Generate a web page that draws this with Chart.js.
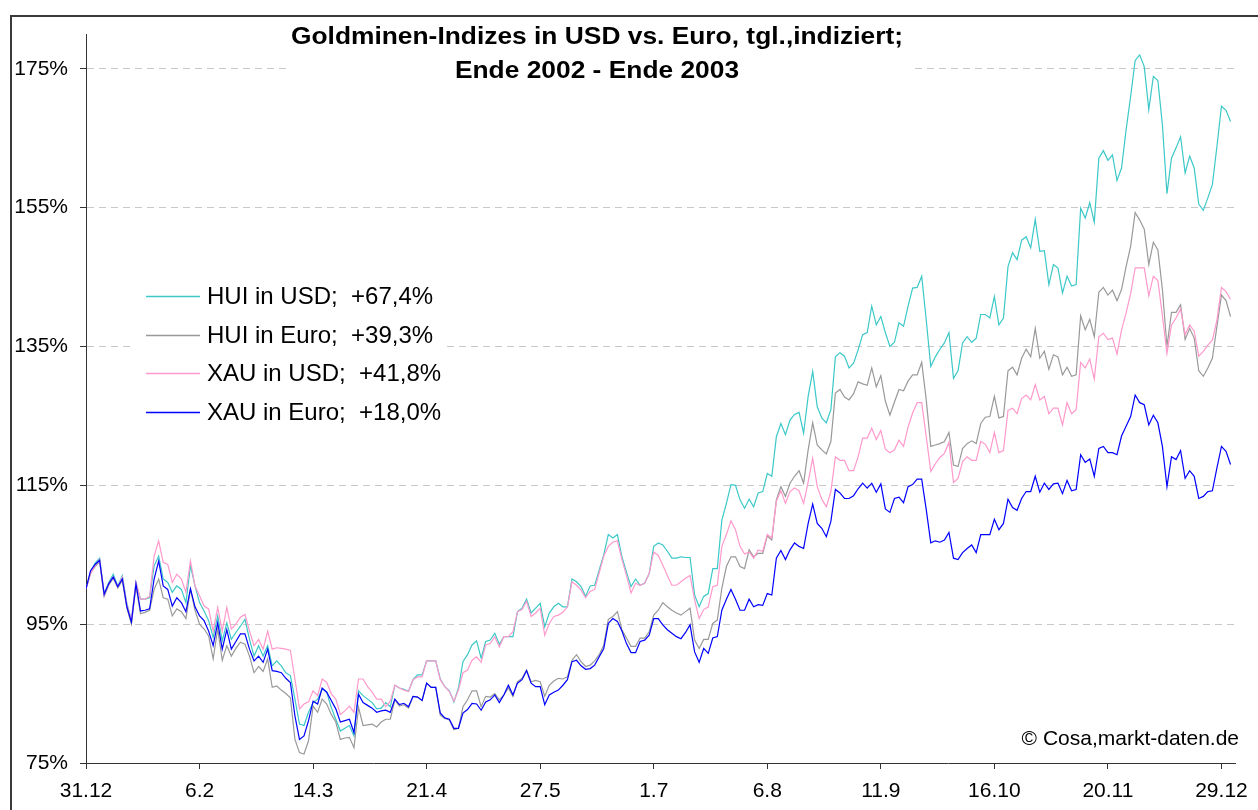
<!DOCTYPE html>
<html>
<head>
<meta charset="utf-8">
<title>Goldminen-Indizes</title>
<script src="https://cdn.jsdelivr.net/npm/chart.js@4.4.1/dist/chart.umd.min.js"></script>
<style>
  html, body { margin: 0; padding: 0; background: #fff; }
  #wrap { width: 1258px; height: 810px; }
</style>
</head>
<body>
<div id="wrap"><canvas id="chart" width="1258" height="810"></canvas></div>
<script>
// ---------------------------------------------------------------------------
// data: daily index values (100 = 31.12.2002), one value per trading day

const tickLabels = ['31.12', '6.2', '14.3', '21.4', '27.5', '1.7', '6.8', '11.9', '16.10', '20.11', '29.12'];
const yTicks = [75, 95, 115, 135, 155, 175];
const titleLines = ['Goldminen-Indizes in USD vs. Euro, tgl.,indiziert;', 'Ende 2002 - Ende 2003'];
const seriesNames = ['HUI in USD;  +67,4%', 'HUI in Euro;  +39,3%', 'XAU in USD;  +41,8%', 'XAU in Euro;  +18,0%'];
const copyright = '\u00A9 Cosa,markt-daten.de';

const huiUsd = [
  100.1, 102.5, 103.8, 104.5, 99.4, 101.0, 102.2, 100.5, 102.0, 98.0,
  95.6, 101.0, 98.6, 98.6, 98.8, 103.4, 104.8, 101.5, 101.0, 99.6,
  100.5, 100.0, 98.1, 103.4, 100.5, 98.1, 96.9, 95.5, 93.1, 96.2,
  92.6, 95.2, 92.8, 93.8, 94.7, 95.7, 92.8, 90.4, 91.9, 90.4,
  91.9, 89.0, 89.7, 89.0, 88.0, 87.6, 84.2, 80.6, 80.4, 82.3,
  83.7, 84.2, 85.7, 85.2, 83.0, 81.3, 79.6, 80.0, 80.4, 78.9,
  85.4, 84.7, 84.2, 83.7, 82.8, 82.9, 83.7, 83.1, 86.2, 85.8,
  85.6, 85.3, 87.0, 87.7, 87.7, 89.7, 89.7, 89.7, 87.1, 86.0,
  85.4, 83.8, 85.8, 89.6, 90.6, 92.0, 92.6, 90.1, 92.5, 92.7,
  93.7, 92.1, 93.2, 93.2, 93.2, 96.8, 97.3, 98.6, 96.6, 97.3,
  98.0, 94.6, 96.6, 97.5, 98.0, 97.5, 97.5, 101.5, 101.1, 100.4,
  99.0, 100.5, 100.6, 102.8, 105.0, 107.9, 107.4, 107.9, 104.7, 102.5,
  100.4, 101.5, 100.6, 100.9, 102.3, 106.2, 106.7, 106.4, 105.5, 104.5,
  104.5, 104.7, 104.6, 104.6, 99.2, 97.5, 99.0, 99.4, 103.0, 103.0,
  110.0, 112.4, 115.1, 115.0, 112.9, 111.7, 113.0, 111.9, 113.9, 114.1,
  116.7, 116.3, 122.0, 123.9, 122.3, 124.4, 125.2, 125.5, 122.5, 127.8,
  131.4, 126.3, 124.7, 124.0, 125.9, 133.5, 134.1, 133.6, 131.9, 132.6,
  134.5, 136.7, 137.0, 140.8, 138.1, 139.3, 137.0, 135.0, 135.6, 138.4,
  137.9, 140.8, 143.4, 143.5, 145.1, 138.8, 132.1, 133.5, 134.6, 135.5,
  137.0, 130.4, 131.5, 135.5, 136.4, 135.6, 136.2, 139.6, 139.6, 139.1,
  142.2, 138.1, 139.1, 146.5, 148.5, 147.5, 150.3, 150.8, 149.2, 153.3,
  148.7, 148.8, 143.9, 146.8, 146.3, 142.7, 145.1, 143.7, 143.9, 154.9,
  153.5, 155.7, 152.9, 162.1, 163.2, 161.8, 162.6, 158.9, 160.7, 166.2,
  171.0, 176.2, 177.0, 175.3, 169.1, 173.9, 173.3, 166.9, 157.0, 162.1,
  163.6, 165.2, 160.0, 162.4, 160.7, 155.5, 154.6, 156.4, 158.3, 163.8,
  169.6, 169.0, 167.4
];

const huiEuro = [
  100.1, 102.3, 103.3, 104.0, 99.0, 100.6, 101.6, 100.2, 101.3, 97.3,
  95.0, 100.5, 96.5, 96.7, 97.0, 100.0, 101.5, 98.8, 98.6, 96.2,
  97.2, 96.8, 95.8, 100.0, 97.0, 95.0, 94.3, 93.3, 90.0, 94.3,
  89.8, 91.9, 90.4, 91.5, 92.4, 92.1, 90.4, 88.0, 88.9, 88.2,
  90.0, 85.9, 86.1, 85.5, 85.0, 84.4, 78.4, 76.5, 76.3, 78.2,
  83.2, 82.3, 84.2, 83.5, 82.0, 80.9, 78.4, 78.6, 78.7, 77.2,
  83.0, 80.4, 80.5, 80.6, 80.2, 80.9, 81.3, 81.3, 84.1, 83.2,
  83.4, 82.9, 84.6, 84.5, 84.0, 86.5, 85.9, 85.9, 81.9, 81.4,
  81.2, 79.8, 80.0, 83.1, 84.1, 85.4, 85.4, 83.1, 84.6, 84.5,
  85.0, 84.1, 84.8, 85.8, 84.6, 86.7, 87.2, 88.4, 86.7, 86.9,
  86.7, 84.6, 86.2, 86.8, 87.2, 87.1, 87.4, 89.8, 90.6, 89.6,
  88.9, 89.1, 89.7, 90.6, 92.0, 95.7, 96.1, 96.8, 94.2, 93.0,
  91.8, 91.8, 93.0, 93.0, 93.9, 96.3, 97.0, 98.1, 97.5, 97.0,
  96.6, 96.3, 96.8, 97.3, 92.7, 91.5, 92.8, 92.8, 95.1, 95.6,
  100.2, 103.3, 104.7, 104.7, 103.3, 103.0, 105.7, 104.7, 105.2, 105.2,
  107.7, 107.1, 112.9, 114.8, 113.4, 115.3, 116.3, 117.1, 115.3, 120.1,
  124.0, 120.8, 120.1, 119.5, 121.3, 128.3, 128.8, 127.7, 127.3, 128.2,
  129.9, 129.6, 129.4, 131.9, 129.2, 130.8, 127.1, 125.1, 127.0, 128.8,
  128.6, 130.0, 130.9, 130.9, 132.7, 127.3, 120.6, 120.8, 121.0, 121.3,
  122.6, 117.9, 117.7, 120.3, 121.0, 121.4, 121.0, 123.9, 124.8, 124.9,
  127.8, 124.7, 124.9, 131.5, 132.0, 130.9, 133.3, 134.6, 133.5, 137.6,
  133.3, 134.3, 131.7, 133.8, 133.5, 130.9, 132.0, 130.7, 130.9, 139.4,
  137.4, 138.9, 136.4, 142.8, 143.5, 142.4, 143.1, 141.6, 143.2, 146.5,
  149.4, 154.3, 153.2, 151.9, 146.8, 150.0, 148.9, 143.2, 135.0, 139.9,
  139.9, 141.0, 136.0, 137.6, 136.2, 131.5, 130.7, 131.9, 133.3, 137.9,
  142.4, 141.6, 139.3
];

const xauUsd = [
  100.1, 102.3, 103.5, 104.3, 99.2, 100.8, 101.8, 100.4, 101.8, 97.8,
  95.6, 101.0, 98.6, 98.6, 99.0, 104.8, 107.0, 103.9, 103.6, 101.0,
  102.2, 101.5, 99.6, 104.1, 100.5, 99.1, 97.6, 97.2, 94.0, 97.4,
  94.0, 97.4, 94.3, 95.0, 96.0, 96.4, 94.0, 91.9, 92.8, 91.4,
  94.0, 91.4, 91.6, 91.5, 91.4, 91.2, 87.1, 82.8, 83.5, 83.8,
  85.4, 84.7, 87.1, 86.6, 85.0, 84.2, 82.0, 82.5, 83.2, 82.3,
  87.1, 87.1, 86.0, 85.2, 84.2, 84.2, 83.1, 83.9, 86.2, 85.8,
  85.5, 85.3, 87.0, 87.4, 87.4, 89.7, 89.7, 89.7, 87.0, 86.0,
  85.3, 83.9, 85.5, 88.0, 88.4, 89.8, 90.3, 89.5, 92.0, 92.2,
  93.2, 91.7, 93.2, 93.2, 93.9, 96.8, 97.1, 98.3, 96.1, 96.6,
  97.3, 93.4, 95.1, 96.1, 96.3, 96.7, 97.5, 101.1, 100.6, 99.9,
  98.8, 99.7, 100.0, 102.4, 104.8, 106.2, 106.8, 107.0, 104.3, 102.0,
  99.5, 100.9, 100.6, 100.9, 102.3, 105.4, 104.9, 103.5, 102.0, 100.6,
  100.6, 101.1, 101.6, 102.0, 98.5, 95.8, 97.1, 97.5, 100.4, 100.6,
  106.2, 107.9, 109.9, 108.6, 106.2, 105.1, 105.4, 104.5, 105.7, 105.5,
  107.9, 107.4, 112.7, 114.2, 112.4, 114.1, 114.6, 114.2, 112.4, 115.5,
  118.9, 114.8, 113.0, 111.9, 114.1, 119.1, 118.6, 118.6, 117.1, 117.1,
  119.1, 121.8, 121.8, 123.2, 121.6, 122.9, 120.2, 119.7, 120.1, 121.5,
  120.6, 123.4, 125.4, 126.9, 126.9, 122.0, 117.0, 118.1, 119.0, 119.6,
  121.2, 115.4, 116.0, 118.4, 119.1, 118.6, 118.6, 121.3, 120.9, 119.7,
  122.6, 119.7, 120.0, 125.8, 126.1, 125.3, 127.5, 128.0, 127.3, 129.5,
  127.3, 127.8, 125.3, 126.1, 126.1, 123.7, 126.9, 125.3, 125.9, 132.7,
  131.9, 133.2, 130.3, 136.4, 136.9, 136.0, 136.2, 133.9, 137.4, 139.8,
  142.6, 146.3, 146.3, 146.3, 142.3, 145.1, 144.5, 139.4, 134.0, 138.1,
  139.1, 140.4, 136.7, 138.1, 137.2, 133.6, 134.3, 135.2, 135.9, 138.8,
  143.5, 142.9, 141.8
];

const xauEuro = [
  100.1, 102.7, 103.6, 104.2, 99.3, 100.8, 101.8, 100.4, 101.5, 97.5,
  95.3, 100.8, 96.9, 97.0, 97.2, 101.5, 104.1, 100.5, 100.0, 97.6,
  98.8, 98.1, 96.8, 100.1, 97.5, 96.2, 95.5, 94.0, 91.9, 95.2,
  91.4, 94.2, 91.4, 92.5, 93.6, 93.6, 91.4, 89.7, 90.4, 89.5,
  91.4, 88.3, 88.2, 88.0, 87.2, 86.6, 81.8, 78.4, 78.9, 81.1,
  83.9, 83.5, 85.8, 85.2, 84.0, 82.8, 80.9, 81.1, 81.3, 79.4,
  84.9, 83.7, 83.3, 82.9, 82.3, 82.5, 82.6, 82.3, 84.2, 83.4,
  83.6, 83.1, 84.6, 84.5, 84.0, 86.5, 85.9, 85.9, 82.2, 81.5,
  81.3, 80.0, 80.0, 82.2, 82.7, 83.6, 83.5, 82.6, 83.8, 84.1,
  84.8, 83.7, 84.8, 86.2, 84.8, 86.5, 87.0, 88.3, 86.5, 86.0,
  86.0, 83.4, 84.8, 85.2, 85.5, 86.2, 87.0, 89.6, 89.8, 89.0,
  88.5, 88.6, 89.1, 90.3, 91.5, 95.1, 95.8, 95.4, 94.0, 92.2,
  90.9, 90.9, 92.5, 92.7, 93.4, 95.8, 95.8, 94.9, 94.2, 93.7,
  93.2, 92.9, 93.8, 94.9, 91.0, 89.5, 91.5, 90.8, 93.0, 93.2,
  97.0, 98.6, 100.0, 98.6, 97.0, 97.0, 98.6, 97.5, 97.8, 97.7,
  99.4, 99.2, 104.5, 105.6, 104.3, 105.7, 106.7, 106.2, 105.9, 109.5,
  112.3, 109.5, 108.8, 107.6, 109.8, 114.4, 113.9, 113.1, 113.1, 113.5,
  114.5, 115.3, 114.6, 115.3, 114.0, 115.2, 111.6, 111.1, 113.1, 113.3,
  112.5, 114.8, 115.1, 115.9, 115.9, 111.5, 106.7, 107.0, 106.8, 107.1,
  108.2, 104.5, 104.3, 105.3, 105.9, 106.4, 105.3, 107.9, 107.9, 107.9,
  110.1, 108.6, 109.5, 113.0, 111.8, 111.4, 113.1, 114.1, 114.1, 116.3,
  114.0, 115.3, 114.4, 115.2, 115.3, 113.8, 115.7, 114.2, 114.4, 119.4,
  118.3, 118.8, 116.3, 120.3, 120.6, 119.7, 119.7, 119.4, 122.1, 123.5,
  124.9, 128.0, 126.9, 126.6, 123.7, 125.1, 124.0, 120.6, 114.8, 119.1,
  118.7, 120.0, 116.0, 117.1, 116.3, 113.1, 113.4, 114.1, 114.2, 117.5,
  120.6, 119.9, 118.0
];

const seriesColors = ['#3cc8c8', '#999999', '#ff99cc', '#0000ff'];
const TICK_EVERY = 25;   // one axis label every 25 trading days

// ---------------------------------------------------------------------------

const FONT = '"Liberation Sans", Arial, sans-serif';
const days = huiUsd.map((v, i) => i);

function toPoints(values) {
  return values.map((v, i) => ({ x: days[i], y: v }));
}

// frame, title, legend and copyright are drawn on top of the chart
const decorPlugin = {
  id: 'decor',
  afterDraw(chart) {
    const ctx = chart.ctx;
    ctx.save();

    // outer frame (runs off the right and bottom edge)
    ctx.strokeStyle = '#3a3a3a';
    ctx.lineWidth = 2;
    ctx.strokeRect(11, 16, 1400, 900);

    // title on white background
    ctx.fillStyle = '#fff';
    ctx.fillRect(287, 21, 628, 66);
    ctx.fillStyle = '#000';
    ctx.font = 'bold 24.5px ' + FONT;
    ctx.textBaseline = 'alphabetic';
    ctx.textAlign = 'center';
    const w1 = ctx.measureText(titleLines[0]).width;
    const squeeze = 612 / w1;
    ctx.save();
    ctx.translate(597, 0);
    ctx.scale(squeeze, 1);
    ctx.fillText(titleLines[0], 0, 44);
    ctx.fillText(titleLines[1], 0, 78);
    ctx.restore();

    // legend box
    ctx.fillStyle = '#fff';
    ctx.fillRect(134, 276, 312, 154);
    ctx.font = '24px ' + FONT;
    ctx.textAlign = 'left';
    ctx.textBaseline = 'middle';
    chart.data.datasets.forEach((ds, i) => {
      const y = Math.round(296 + i * 38.5) + 0.5;
      ctx.strokeStyle = ds.borderColor;
      ctx.lineWidth = 1.3;
      ctx.beginPath();
      ctx.moveTo(146, y);
      ctx.lineTo(200, y);
      ctx.stroke();
      ctx.fillStyle = '#000';
      ctx.fillText(ds.label, 207, y + 1);
    });

    // copyright
    ctx.font = '21px ' + FONT;
    ctx.textAlign = 'right';
    ctx.textBaseline = 'alphabetic';
    ctx.fillText(copyright, 1239, 745);

    ctx.restore();
  }
};

function makeDataset(label, values, color, order) {
  return {
    label: label,
    data: toPoints(values),
    borderColor: color,
    borderWidth: 1.2,
    pointRadius: 0,
    pointHoverRadius: 0,
    tension: 0,
    fill: false,
    order: order
  };
}

new Chart(document.getElementById('chart').getContext('2d'), {
  type: 'line',
  data: {
    datasets: [
      makeDataset(seriesNames[0], huiUsd, seriesColors[0], 4),
      makeDataset(seriesNames[1], huiEuro, seriesColors[1], 3),
      makeDataset(seriesNames[2], xauUsd, seriesColors[2], 2),
      makeDataset(seriesNames[3], xauEuro, seriesColors[3], 1)
    ]
  },
  options: {
    responsive: false,
    animation: false,
    devicePixelRatio: 1,
    layout: { padding: { left: 10, right: 22, top: 34, bottom: 0 } },
    plugins: {
      legend: { display: false },
      title: { display: false },
      tooltip: { enabled: false }
    },
    scales: {
      x: {
        type: 'linear',
        min: 0,
        max: 253,
        afterBuildTicks: (scale) => {
          scale.ticks = tickLabels.map((t, i) => ({ value: i * TICK_EVERY }));
        },
        afterFit: (scale) => { scale.height = 47; },
        grid: {
          drawOnChartArea: false,
          drawTicks: true,
          tickLength: 6,
          tickColor: '#333'
        },
        border: { display: true, color: '#333', width: 1 },
        ticks: {
          autoSkip: false,
          maxRotation: 0,
          padding: 10,
          color: '#000',
          font: { family: FONT, size: 21 },
          callback: (value) => tickLabels[Math.round(value / TICK_EVERY)]
        }
      },
      y: {
        type: 'linear',
        min: 75,
        max: 180,
        afterBuildTicks: (scale) => {
          scale.ticks = yTicks.map(v => ({ value: v }));
        },
        afterFit: (scale) => { scale.width = 76; },
        grid: {
          color: '#c8c8c8',
          lineWidth: 1,
          tickLength: 6,
          tickColor: '#333',
          tickBorderDash: []
        },
        border: { display: true, color: '#333', width: 1, dash: [7, 5] },
        ticks: {
          padding: 12,
          color: '#000',
          font: { family: FONT, size: 21 },
          callback: (value) => value + '%'
        }
      }
    }
  },
  plugins: [decorPlugin]
});
</script>
</body>
</html>
